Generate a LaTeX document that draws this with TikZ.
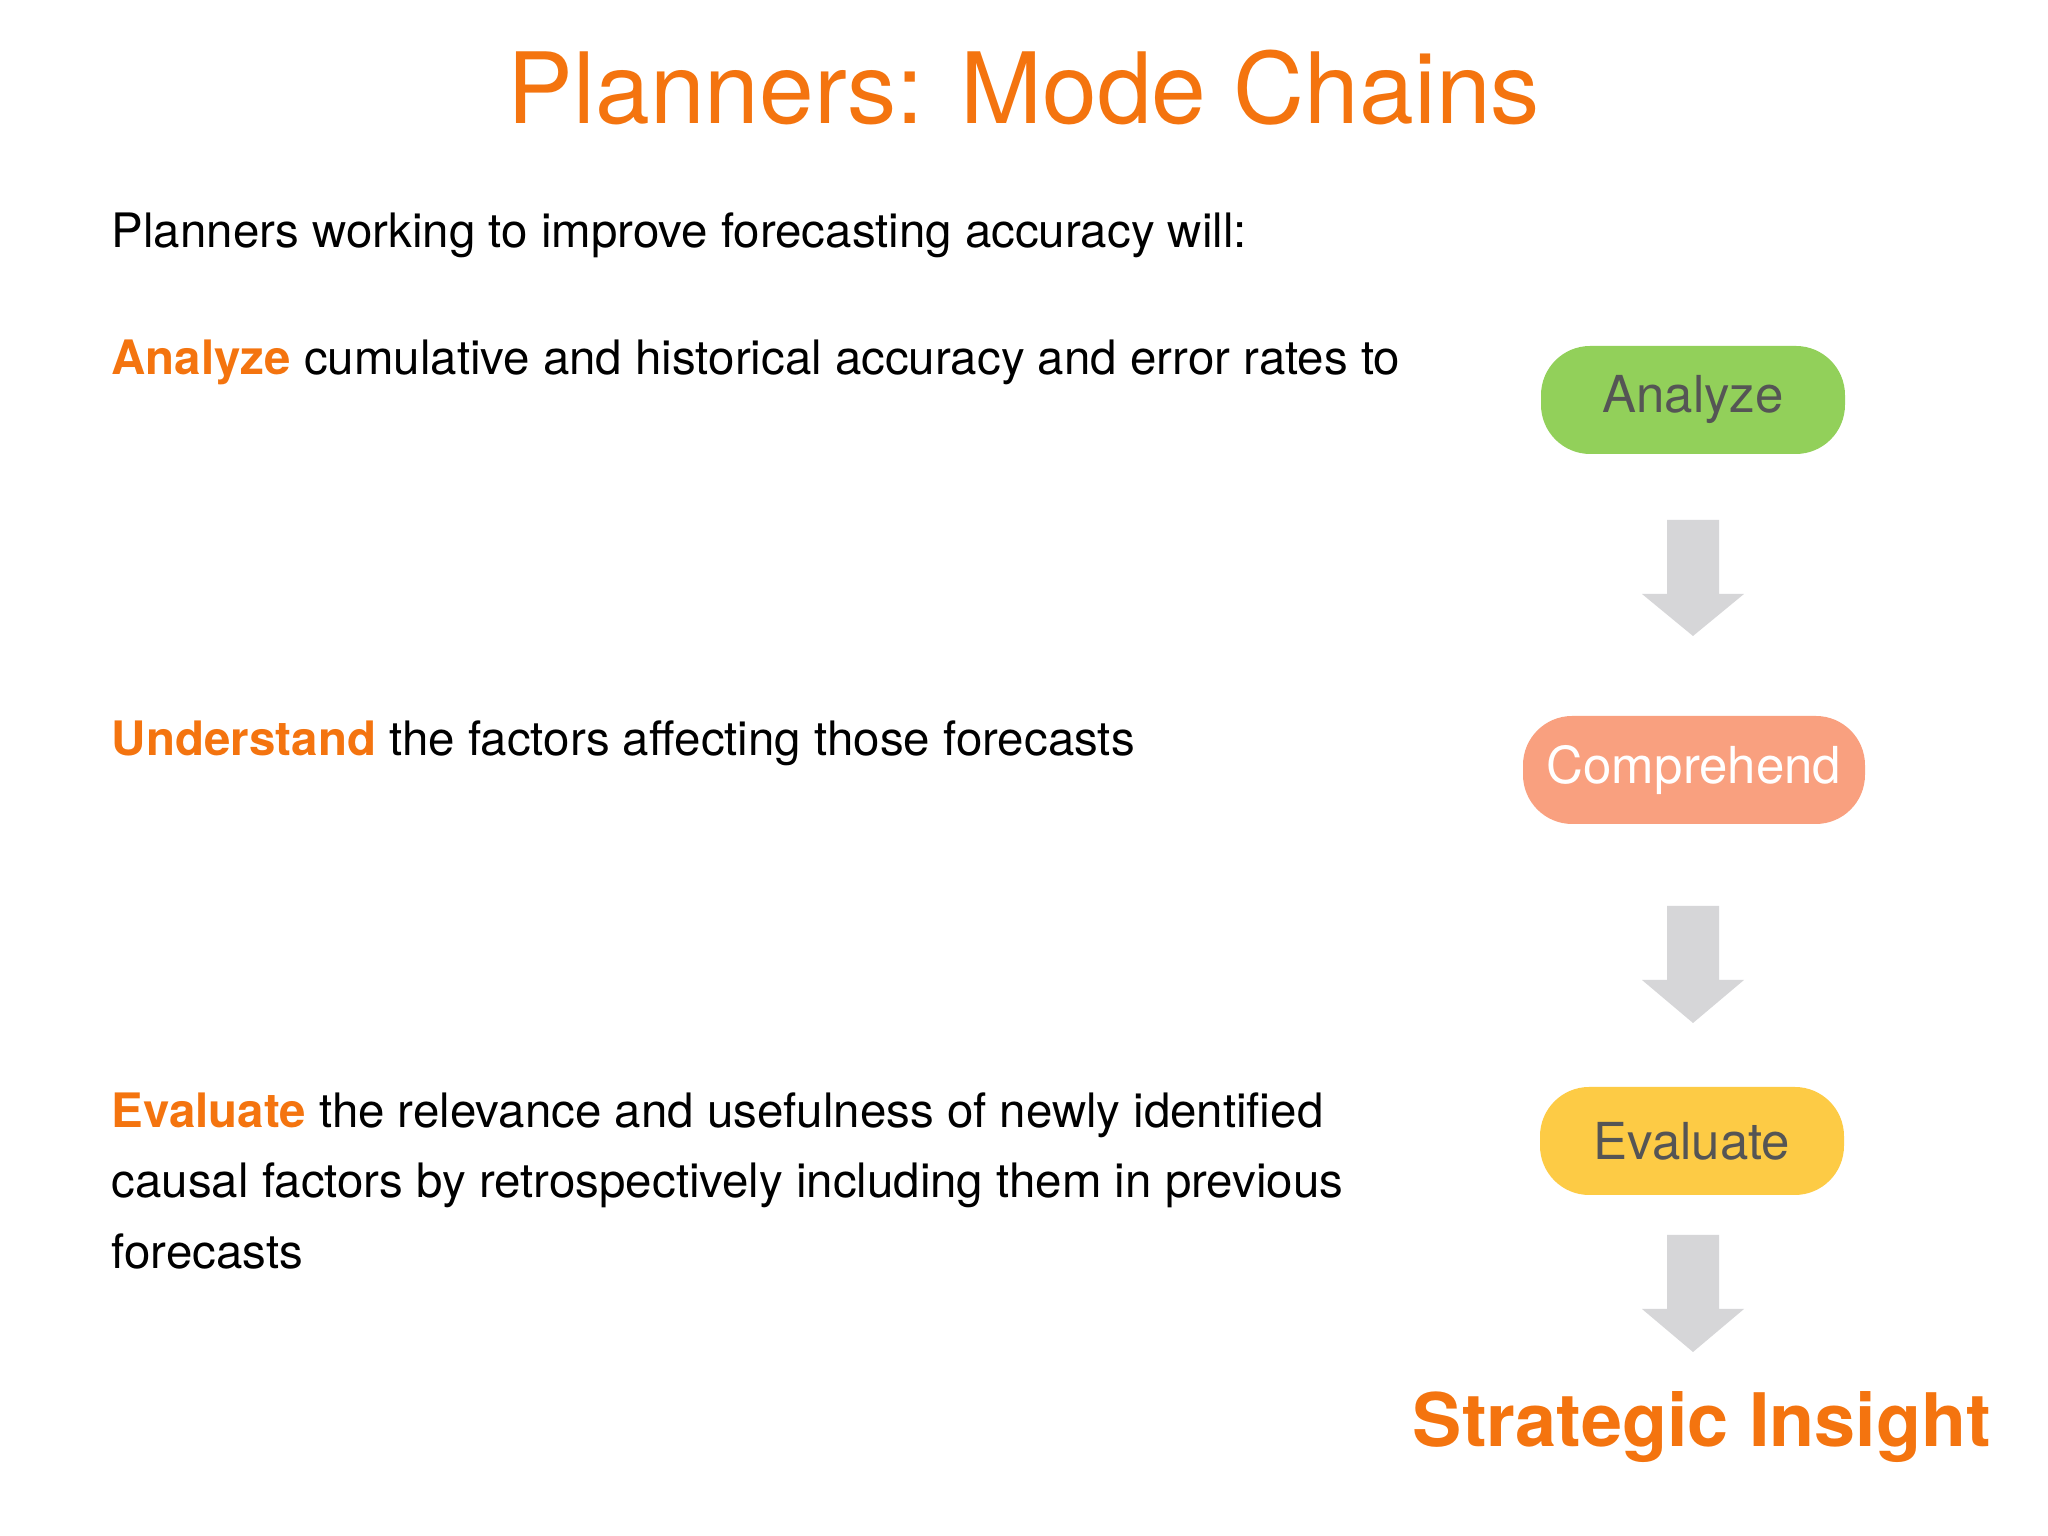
\documentclass[tikz,border=0pt]{standalone}
\usepackage{fontspec}
\setmainfont{TeX Gyre Heros}
\definecolor{orng}{HTML}{F4740F}
\definecolor{grn}{HTML}{92D05A}
\definecolor{slm}{HTML}{F9A07F}
\definecolor{ylw}{HTML}{FDCB45}
\definecolor{txtg}{HTML}{555555}
\definecolor{arr}{HTML}{D6D6D8}
\tikzset{
 body/.style={anchor=base west,font=\fontsize{13.5}{20}\selectfont,inner sep=0pt},
 box/.style={rounded corners=14pt,minimum height=1.08cm,text=txtg,font=\fontsize{14.5}{17}\selectfont},
}
\newcommand{\blockarrow}[2]{% top y, bottom y (cm), x center 16.93
 \fill[arr] (16.67,#1) -- (17.19,#1) -- (17.19,#1-0.74) -- (17.44,#1-0.74) -- (16.93,#2) -- (16.42,#1-0.74) -- (16.67,#1-0.74) -- cycle;}
\begin{document}
\begin{tikzpicture}[x=1cm,y=1cm]
\useasboundingbox (0,0) rectangle (20.48,15.36);
\fill[white] (0,0) rectangle (20.48,15.36);
\node[text=orng,font=\fontsize{28}{32}\selectfont] (title) at (10.24,14.48) {Planners: Mode Chains};
\node[body] (intro) at (1.11,12.88) {Planners working to improve forecasting accuracy will:};
\node[body] (l1) at (1.11,11.61) {\textcolor{orng}{\bfseries Analyze} cumulative and historical accuracy and error rates to};
\node[body] (l2) at (1.11,7.80) {\textcolor{orng}{\bfseries Understand} the factors affecting those forecasts};
\node[body,align=left,anchor=north west] (l3) at (1.11,4.44) {\textcolor{orng}{\bfseries Evaluate} the relevance and usefulness of newly identified\\causal factors by retrospectively including them in previous\\forecasts};
\node[box,fill=grn,minimum width=3.04cm] (a) at (16.93,11.36) {Analyze};
\node[box,fill=slm,minimum width=3.42cm,text=white] (c) at (16.94,7.66) {Comprehend};
\node[box,fill=ylw,minimum width=3.04cm] (e) at (16.92,3.95) {Evaluate};
\node[text=orng,font=\bfseries\fontsize{21}{24}\selectfont] (s) at (17.02,1.09) {Strategic Insight};
\blockarrow{10.16}{9.00}
\blockarrow{6.30}{5.13}
\blockarrow{3.01}{1.84}
\end{tikzpicture}
\end{document}
